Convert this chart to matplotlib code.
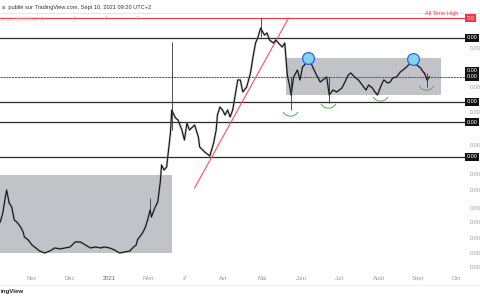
import matplotlib
matplotlib.use("Agg")
import matplotlib.pyplot as plt
import matplotlib.dates as mdates
import matplotlib.path as mpath
import matplotlib.transforms as mtransforms
from matplotlib.lines import Line2D
from matplotlib.patches import Rectangle
import pandas as pd

plt.rcParams['font.family'] = ['Liberation Sans', 'DejaVu Sans']

SCALE = 1e-6  # prices below are in millionths

dates = [
    "2020-10-07", "2020-10-09", "2020-10-11", "2020-10-12", "2020-10-14", "2020-10-16",
    "2020-10-18", "2020-10-20", "2020-10-23", "2020-10-25", "2020-10-26", "2020-10-29",
    "2020-11-01", "2020-11-04", "2020-11-07", "2020-11-11", "2020-11-15", "2020-11-19",
    "2020-11-23", "2020-11-27", "2020-12-01", "2020-12-05", "2020-12-09", "2020-12-13",
    "2020-12-17", "2020-12-21", "2020-12-25", "2020-12-28", "2021-01-01", "2021-01-05",
    "2021-01-09", "2021-01-13", "2021-01-17", "2021-01-20", "2021-01-22", "2021-01-23",
    "2021-01-27", "2021-01-29", "2021-01-31", "2021-02-02", "2021-02-03", "2021-02-06",
    "2021-02-08", "2021-02-10", "2021-02-11", "2021-02-13", "2021-02-15", "2021-02-18",
    "2021-02-19", "2021-02-22", "2021-02-24", "2021-02-27", "2021-03-01", "2021-03-03",
    "2021-03-05", "2021-03-09", "2021-03-12", "2021-03-13", "2021-03-17", "2021-03-21",
    "2021-03-24", "2021-03-26", "2021-03-27", "2021-03-29", "2021-03-31", "2021-04-02",
    "2021-04-04", "2021-04-06", "2021-04-08", "2021-04-10", "2021-04-12", "2021-04-14",
    "2021-04-16", "2021-04-19", "2021-04-22", "2021-04-24", "2021-04-26", "2021-04-28",
    "2021-04-30", "2021-05-03", "2021-05-05", "2021-05-07", "2021-05-10", "2021-05-12",
    "2021-05-14", "2021-05-17", "2021-05-19", "2021-05-21", "2021-05-23", "2021-05-24",
    "2021-05-26", "2021-05-29", "2021-05-31", "2021-06-02", "2021-06-05", "2021-06-07",
    "2021-06-10", "2021-06-13", "2021-06-16", "2021-06-20", "2021-06-21", "2021-06-23",
    "2021-06-26", "2021-06-29", "2021-07-03", "2021-07-05", "2021-07-08", "2021-07-10",
    "2021-07-13", "2021-07-16", "2021-07-19", "2021-07-22", "2021-07-24", "2021-07-27",
    "2021-07-29", "2021-07-31", "2021-08-03", "2021-08-05", "2021-08-08", "2021-08-10",
    "2021-08-12", "2021-08-15", "2021-08-18", "2021-08-20", "2021-08-22", "2021-08-26",
    "2021-08-28", "2021-08-31", "2021-09-03", "2021-09-05", "2021-09-06", "2021-09-08",
    "2021-09-10",
]
closes = [
    1.728, 1.967, 2.476, 2.738, 2.271, 2.144,
    1.778, 1.728, 1.608, 1.496, 1.392, 1.334,
    1.241, 1.189, 1.138, 1.106, 1.138, 1.189,
    1.172, 1.189, 1.206, 1.296, 1.296, 1.241,
    1.189, 1.206, 1.189, 1.206, 1.189, 1.155,
    1.106, 1.122, 1.138, 1.206, 1.241, 1.334,
    1.475, 1.585, 1.778, 2.054, 1.857, 2.144,
    2.304, 3.073, 3.924, 3.652, 3.813, 6.220,
    8.660, 7.718, 7.499, 6.494, 5.623, 7.181,
    6.494, 6.978, 5.872, 5.085, 4.732, 4.467,
    5.386, 6.494, 8.058, 9.041, 8.660, 8.058,
    8.660, 7.829, 8.660, 10.75, 13.34, 13.34,
    11.22, 12.06, 14.75, 18.57, 22.71, 24.76,
    28.18, 25.48, 26.23, 23.71, 22.71, 23.71,
    22.71, 21.44, 22.71, 14.33, 12.06, 10.75,
    13.93, 15.40, 13.34, 16.08, 17.03, 18.30,
    16.08, 14.33, 12.96, 13.73, 13.93, 10.75,
    11.55, 11.22, 11.89, 12.77, 14.33, 14.75,
    13.93, 13.34, 12.41, 11.55, 12.41, 11.89,
    11.22, 10.75, 12.41, 13.34, 12.77, 12.96,
    13.73, 13.93, 14.96, 15.40, 15.85, 17.03,
    17.78, 16.55, 15.85, 14.96, 14.75, 13.34,
    13.93,
]

wick_dates = ["2021-02-02", "2021-02-19", "2021-04-30", "2021-05-24", "2021-06-23", "2021-09-08"]
wick_lows = [2.054, 6.494, 24.76, 8.660, 9.577, 12.06]
wick_highs = [2.440, 23.04, 32.54, 13.93, 13.93, 14.75]

ath_price = 32.54
level_prices = [24.41, 9.717, 7.285, 4.403]
dotted_level = 13.93
label_box_prices = [24.41, 15.2, 13.93, 9.717, 7.285, 4.403]
box_text = "0.00"
ath_text = "0.0"

axis_ticks = [21.14, 12.06, 8.414, 5.233, 3.447, 2.738, 2.113, 1.728, 1.372, 1.106, 0.904]
axis_tick_text = "0.00"

box_left = ("2020-10-06", "2021-02-19", 1.106, 3.398)
box_right = ("2021-05-20", "2021-09-19", 10.75, 18.30)
trend_dates = ["2021-03-09", "2021-05-22"]
trend_prices = [2.818, 32.54]

top_dates = ["2021-06-06", "2021-08-28"]
top_prices = [18.30, 18.04]
low_dates = ["2021-05-23", "2021-06-22", "2021-08-02", "2021-09-07"]
low_prices = [9.041, 10.14, 11.22, 13.14]

month_ticks = ["2020-11-01", "2020-12-01", "2021-01-01", "2021-02-01", "2021-03-01", "2021-04-01",
               "2021-05-01", "2021-06-01", "2021-07-01", "2021-08-01", "2021-09-01", "2021-10-01"]
month_labels = ["Nov", "Déc", "2021", "Févr", "2", "Avr", "Mai", "Juin", "Juil", "Août", "Sept", "Oct"]

# ---------------------------------------------------------------
W, H = 480, 300
fig = plt.figure(figsize=(4.8, 3.0), dpi=100)
fig.patch.set_facecolor("white")
ax = fig.add_axes([0, 1 - 272 / H, 465 / W, 259 / H])
ax.set_facecolor("white")
ax.set_yscale("log")

d = pd.to_datetime(dates)
c = [v * SCALE for v in closes]

# boxes
for (x0, x1, y0, y1) in [box_left, box_right]:
    xa = mdates.date2num(pd.Timestamp(x0))
    xb = mdates.date2num(pd.Timestamp(x1))
    ax.add_patch(Rectangle((xa, y0 * SCALE), xb - xa, (y1 - y0) * SCALE,
                           facecolor="#c2c3c9", edgecolor="none", zorder=1))

# horizontal levels
for p in level_prices:
    ax.axhline(p * SCALE, color="#2a2a2a", lw=0.9, zorder=2)
ax.axhline(dotted_level * SCALE, color="#666666", lw=0.8, ls=(0, (2, 0.6)), zorder=2)
ax.axhline(ath_price * SCALE, color="#f23645", lw=0.8, zorder=2)

# trend line
ax.plot(pd.to_datetime(trend_dates), [v * SCALE for v in trend_prices],
        color="#f7525f", lw=0.8, zorder=3)

# price
ax.plot(d, c, color="#8a8a8a", lw=1.7, alpha=0.45, zorder=4)
ax.plot(d, c, color="#151515", lw=0.8, zorder=5)
ax.vlines(pd.to_datetime(wick_dates), [v * SCALE for v in wick_lows],
          [v * SCALE for v in wick_highs], color="#333333", lw=0.6, zorder=5)

# annotations
arc = mpath.Path.arc(210, 330)
ax.plot(pd.to_datetime(low_dates), [v * SCALE for v in low_prices], ls="none",
        marker=arc, markersize=12.5, markerfacecolor="none",
        markeredgecolor="#4caf50", markeredgewidth=0.7, zorder=6)
ax.plot(pd.to_datetime(top_dates), [v * SCALE for v in top_prices], ls="none",
        marker="o", markersize=8.5, markerfacecolor="#86d3ea",
        markeredgecolor="#2962ff", markeredgewidth=0.9, zorder=6)

# limits
ax.set_xlim(pd.Timestamp("2020-10-06 19:00"), pd.Timestamp("2021-10-07 22:00"))
ax.set_ylim(0.841 * SCALE, 34.98 * SCALE)

for s in ax.spines.values():
    s.set_visible(False)

ax.set_xticks(pd.to_datetime(month_ticks))
ax.set_xticklabels(month_labels)
ax.tick_params(axis="x", length=0, pad=2.6, labelsize=4.2, labelcolor="#9a9a9a")
for lab in ax.get_xticklabels():
    if lab.get_text() == "2021":
        lab.set_color("#6a6a6a")

ax.yaxis.tick_right()
ax.set_yticks([v * SCALE for v in axis_ticks])
ax.set_yticklabels([axis_tick_text for v in axis_ticks])
ax.yaxis.set_minor_locator(matplotlib.ticker.NullLocator())
ax.tick_params(axis="y", which="both", length=0, pad=3.2, labelsize=4.0, labelcolor="#a0a0a0")

# price label boxes on right
trans = mtransforms.blended_transform_factory(ax.transAxes, ax.transData)
for p in label_box_prices:
    ax.text(1.004, p * SCALE, box_text, transform=trans, fontsize=4.0,
            color="white", va="center", ha="left", clip_on=False, zorder=10,
            bbox=dict(boxstyle="square,pad=0.3", facecolor="#111111", edgecolor="none"))
ax.text(1.004, ath_price * SCALE, ath_text, transform=trans, fontsize=4.0,
        color="white", va="center", ha="left", clip_on=False, zorder=10,
        bbox=dict(boxstyle="square,pad=0.3", facecolor="#f23645", edgecolor="none"))

# header / footer text
fig.text(0.004, 1 - 7 / H, "a  publié sur TradingView.com, Sept 10, 2021 09:20 UTC+2",
         fontsize=4.1, color="#333333", va="center", ha="left")
fig.add_artist(Line2D([0, 1], [1 - 13 / H, 1 - 13 / H], color="#e3e3e3", lw=0.6))
fig.text(0.0, 1 - 19 / H, "C, 1D, BINANCE  O", fontsize=3.6, color="#c4c4c4", va="center")
fig.text(73 / W, 1 - 19 / H, "H", fontsize=3.6, color="#c4c4c4", va="center")
fig.text(105 / W, 1 - 19 / H, "B", fontsize=3.6, color="#c4c4c4", va="center")
fig.text(136 / W, 1 - 19 / H, "C", fontsize=3.6, color="#c4c4c4", va="center")
fig.text(425 / W, 1 - 14 / H, "All Time High", fontsize=4.1, color="#f23645", va="center")
fig.add_artist(Line2D([0, 1], [1 - 285 / H, 1 - 285 / H], color="#ececec", lw=0.6))
fig.text(0.002, 1 - 292 / H, "ingView", fontsize=4.4, color="#222222",
         va="center", ha="left", fontweight="bold")

fig.savefig("out.png", dpi=100, facecolor="white")
